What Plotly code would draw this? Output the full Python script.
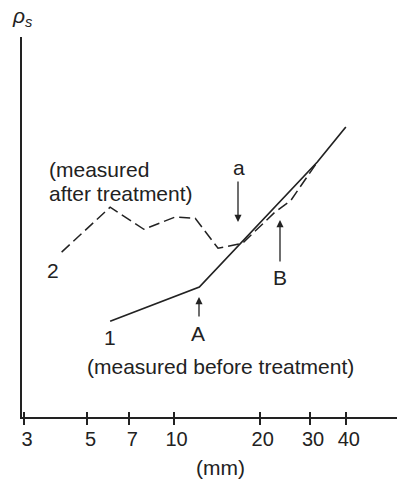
import plotly.graph_objects as go

# Apparent resistivity (arbitrary units) against electrode spacing (mm)
spacing_before = [6.0, 12.3, 31.8, 40.0]
rho_before = [25.2, 34.2, 67.1, 76.3]

spacing_after = [4.06, 6.0, 7.87, 10.1, 11.9, 14.3, 17.4, 22.6, 25.7, 31.8]
rho_after = [43.4, 55.2, 49.4, 52.6, 52.3, 44.4, 45.7, 53.9, 57.0, 67.1]

tick_mm = [3, 5, 7, 10, 20, 30, 40]
tick_text = ["3", "5", "7", "10", "20", "30", "40"]

W, H = 397, 479
ML, MR, MT, MB = 22, 0, 37, 62
INK = "#222222"
FONT = "Liberation Sans, Arial, Helvetica, sans-serif"


def paper(x_px, y_px):
    """Convert a page pixel position to paper coordinates."""
    return (x_px - ML) / (W - ML - MR), (H - MB - y_px) / (H - MT - MB)


x_range = [0.470, 1.781]

fig = go.Figure()
fig.add_trace(go.Scatter(
    x=spacing_before, y=rho_before, mode="lines",
    line=dict(color=INK, width=1.7), showlegend=False, hoverinfo="skip"))
fig.add_trace(go.Scatter(
    x=spacing_after, y=rho_after, mode="lines",
    line=dict(color=INK, width=1.5, dash="11px,5px"),
    showlegend=False, hoverinfo="skip"))

# second x axis only to draw the upward half of each tick
fig.add_trace(go.Scatter(x=[10], y=[-10], xaxis="x2", mode="markers",
                         marker=dict(opacity=0), showlegend=False,
                         hoverinfo="skip"))

annotations = []


def label(text, x_px, y_px, size=21, xanchor="center"):
    xp, yp = paper(x_px, y_px)
    annotations.append(dict(
        text=text, x=xp, y=yp, xref="paper", yref="paper",
        xanchor=xanchor, yanchor="middle", showarrow=False,
        font=dict(family=FONT, size=size, color=INK)))


def arrow(x_px, tail_y, tip_y):
    xp, yp = paper(x_px, tip_y)
    annotations.append(dict(
        text="", x=xp, y=yp, xref="paper", yref="paper",
        ax=0, ay=tail_y - tip_y, axref="pixel", ayref="pixel",
        showarrow=True, arrowhead=2, arrowsize=1.1, arrowwidth=1.3,
        arrowcolor=INK))


label("<i>ρ</i><sub><i>s</i></sub>", 22, 17, size=21)
label("(measured", 47, 169, xanchor="left")
label("after treatment)", 47, 193, xanchor="left")
label("2", 53, 270)
label("1", 110, 337)
label("A", 198, 333)
label("a", 239, 168)
label("B", 280, 277)
label("(measured before treatment)", 221, 366)
label("(mm)", 220, 467)

arrow(238, 180, 222)
arrow(199, 318, 297)
arrow(280, 263, 220)

axis_common = dict(type="log", range=x_range, tickvals=tick_mm,
                   showgrid=False, zeroline=False)

fig.update_layout(
    width=W, height=H,
    margin=dict(l=ML, r=MR, t=MT, b=MB),
    paper_bgcolor="white", plot_bgcolor="white",
    xaxis=dict(**axis_common, ticktext=tick_text, ticks="outside",
               ticklen=6, tickwidth=1.5, tickcolor=INK,
               showline=True, linewidth=2, linecolor=INK,
               ticklabelshift=3, ticklabelstandoff=-3,
               tickfont=dict(family=FONT, size=20, color=INK)),
    xaxis2=dict(**axis_common, overlaying="x", side="bottom",
                ticks="inside", ticklen=5, tickwidth=1.5, tickcolor=INK,
                showticklabels=False, showline=False),
    yaxis=dict(range=[0, 100], showgrid=False, zeroline=False,
               showticklabels=False, ticks="", showline=True,
               linewidth=2, linecolor=INK),
    annotations=annotations,
)

fig.write_html("out.html")
